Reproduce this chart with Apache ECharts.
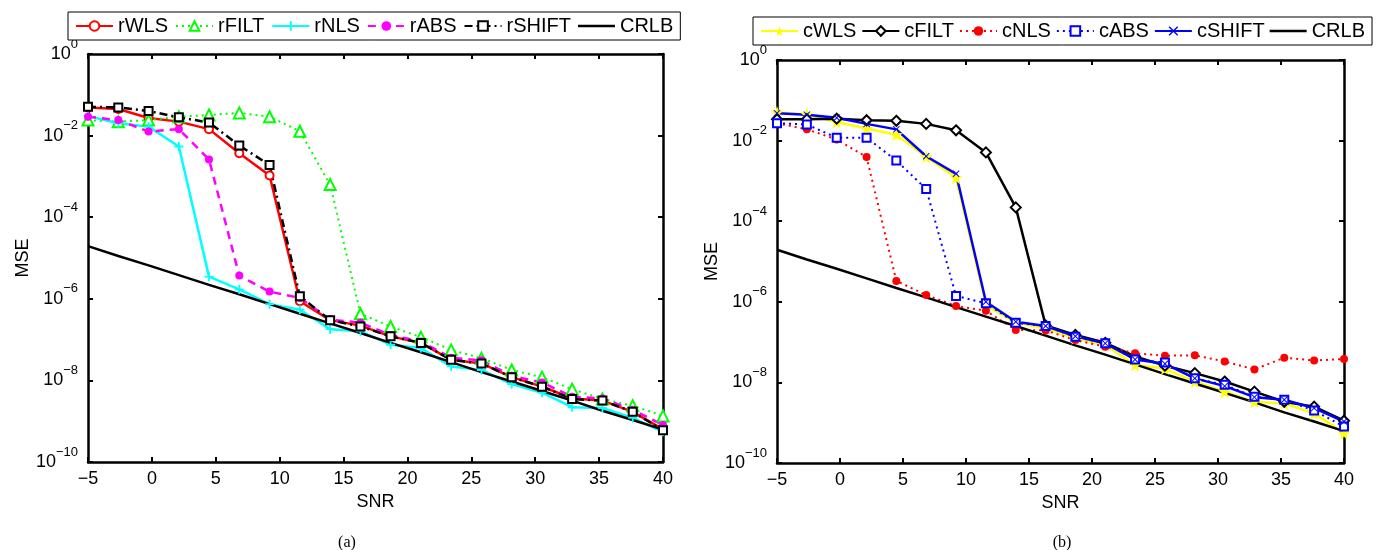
<!DOCTYPE html>
<html>
<head>
<meta charset="utf-8">
<script src="https://cdn.jsdelivr.net/npm/echarts@6/dist/echarts.min.js"></script>
<style>
html,body{margin:0;padding:0;background:#fff;}
#c{width:1380px;height:550px;}
</style>
</head>
<body>
<div id="c"></div>
<script>
// ---- data ----
const snr = [-5, -2.63, -0.26, 2.11, 4.47, 6.84, 9.21, 11.58, 13.95, 16.32, 18.68, 21.05, 23.42, 25.79, 28.16, 30.53, 32.89, 35.26, 37.63, 40];
const xTicks = [-5, 0, 5, 10, 15, 20, 25, 30, 35, 40];

const rWLS   = [0.049, 0.045, 0.027, 0.022, 0.0144, 0.0037, 0.00105, 8.7e-7, 3.0e-7, 2.2e-7, 1.2e-7, 8.3e-8, 3.2e-8, 2.6e-8, 1.2e-8, 7.1e-9, 3.6e-9, 3.2e-9, 1.7e-9, 6.3e-10];
const rFILT  = [0.024, 0.022, 0.024, 0.029, 0.032, 0.036, 0.029, 0.0128, 6.3e-4, 4.3e-7, 2.1e-7, 1.15e-7, 5.6e-8, 3.5e-8, 1.8e-8, 1.2e-8, 6.1e-9, 3.5e-9, 2.4e-9, 1.35e-9];
const rNLS   = [0.030, 0.020, 0.0166, 0.0054, 3.5e-6, 1.7e-6, 7.4e-7, 5.4e-7, 1.8e-7, 1.6e-7, 7.5e-8, 6.2e-8, 2.2e-8, 1.8e-8, 8.1e-9, 5.0e-9, 2.2e-9, 2.1e-9, 1.2e-9, 5.5e-10];
const rABS   = [0.029, 0.024, 0.0126, 0.0144, 0.0026, 3.7e-6, 1.5e-6, 1.05e-6, 3.1e-7, 2.6e-7, 1.3e-7, 9.0e-8, 3.6e-8, 3.1e-8, 1.3e-8, 8.9e-9, 4.0e-9, 3.6e-9, 1.9e-9, 8.1e-10];
const rSHIFT = [0.051, 0.049, 0.040, 0.028, 0.021, 0.0057, 0.0019, 1.15e-6, 3.0e-7, 2.1e-7, 1.2e-7, 8.3e-8, 3.2e-8, 2.6e-8, 1.2e-8, 7.0e-9, 3.5e-9, 3.2e-9, 1.7e-9, 6.0e-10];
const CRLB   = [1.95e-5, 1.12e-5, 6.6e-6, 3.8e-6, 2.2e-6, 1.29e-6, 7.4e-7, 4.3e-7, 2.5e-7, 1.45e-7, 8.3e-8, 4.9e-8, 2.8e-8, 1.6e-8, 9.4e-9, 5.5e-9, 3.2e-9, 1.8e-9, 1.07e-9, 6.2e-10];

const cWLS   = [0.050, 0.045, 0.029, 0.020, 0.014, 0.0040, 0.0012, 8.3e-7, 3.0e-7, 2.2e-7, 1.24e-7, 8.5e-8, 2.7e-8, 2.2e-8, 1.05e-8, 5.9e-9, 3.3e-9, 3.0e-9, 1.7e-9, 5.5e-10];
const cFILT  = [0.034, 0.034, 0.035, 0.032, 0.031, 0.026, 0.018, 0.0051, 2.2e-4, 2.6e-7, 1.5e-7, 9.6e-8, 4.4e-8, 2.6e-8, 1.7e-8, 1.05e-8, 5.9e-9, 3.3e-9, 2.5e-9, 1.12e-9];
const cNLS   = [0.027, 0.019, 0.0107, 0.0039, 3.3e-6, 1.47e-6, 7.9e-7, 6.0e-7, 2.0e-7, 1.95e-7, 1.12e-7, 7.7e-8, 5.3e-8, 4.6e-8, 4.7e-8, 3.3e-8, 2.1e-8, 4.1e-8, 3.5e-8, 3.8e-8];
const cABS   = [0.027, 0.025, 0.0118, 0.0118, 0.0032, 6.3e-4, 1.4e-6, 9.2e-7, 3.0e-7, 2.5e-7, 1.35e-7, 9.3e-8, 3.7e-8, 3.1e-8, 1.26e-8, 8.7e-9, 4.4e-9, 3.7e-9, 2.0e-9, 8.0e-10];
const cSHIFT = [0.048, 0.044, 0.037, 0.026, 0.019, 0.0041, 0.0015, 1.0e-6, 3.2e-7, 2.5e-7, 1.4e-7, 9.3e-8, 3.7e-8, 2.9e-8, 1.26e-8, 8.1e-9, 4.3e-9, 3.7e-9, 2.3e-9, 1.07e-9];

const legendA = ['rWLS', 'rFILT', 'rNLS', 'rABS', 'rSHIFT', 'CRLB'];
const legendB = ['cWLS', 'cFILT', 'cNLS', 'cABS', 'cSHIFT', 'CRLB'];
const panelLabels = ['(a)', '(b)'];

// ---- styling ----
const FONT = 'Liberation Sans, Arial, Helvetica, sans-serif';
const STAR = 'path://M10,0 L12.35,6.76 L19.51,6.91 L13.80,11.24 L15.88,18.09 L10,14 L4.12,18.09 L6.20,11.24 L0.49,6.91 L7.65,6.76 Z';
const PLUS = 'path://M4,0H6V4H10V6H6V10H4V6H0V4H4Z';
const XMARK = 'path://M1,0L5,4L9,0L10,1L6,5L10,9L9,10L5,6L1,10L0,9L4,5L0,1Z';
const LINEICON = 'path://M0,0H37V2.5H0Z';

function pairs(vals){ return snr.map((x,i)=>[x, vals[i]]); }

function mk(name, vals, gi, color, type, width, symbol, size, empty, bw){
  return {
    name: name, type: 'line', xAxisIndex: gi*2, yAxisIndex: gi*2,
    data: pairs(vals),
    symbol: symbol, symbolSize: size, showSymbol: symbol !== 'none',
    lineStyle: {color: color, width: width, type: type},
    itemStyle: empty ? {color: color, borderColor: color, borderWidth: bw || 2}
                     : {color: color, borderColor: color, borderWidth: bw || 0},
    emphasis: {disabled: true},
    z: 3
  };
}

function xAxes(gi){
  const base = {
    gridIndex: gi, type: 'value', min: -5, max: 40, interval: 5,
    axisLine: {onZero: false, lineStyle: {color: '#000', width: 2.5}},
    axisTick: {inside: true, length: 5, lineStyle: {color: '#000', width: 2}},
    splitLine: {show: false}
  };
  return [
    Object.assign({}, base, {
      position: 'bottom',
      axisLabel: {color: '#000', fontFamily: FONT, fontSize: 18, margin: 8,
        formatter: v => (v < 0 ? '\u2212' + Math.abs(v) : '' + v)},
      name: 'SNR', nameLocation: 'middle', nameGap: 29,
      nameTextStyle: {color: '#000', fontFamily: FONT, fontSize: 18}
    }),
    Object.assign({}, base, {position: 'top', axisLabel: {show: false}})
  ];
}

function yAxes(gi){
  const base = {
    gridIndex: gi, type: 'log', logBase: 10, min: 1e-10, max: 1, interval: 2,
    axisLine: {onZero: false, lineStyle: {color: '#000', width: 2.5}},
    axisTick: {inside: true, length: 5, lineStyle: {color: '#000', width: 2}},
    minorTick: {show: false},
    splitLine: {show: false}
  };
  return [
    Object.assign({}, base, {
      position: 'left',
      axisLabel: {
        margin: 10,
        formatter: v => {
          const e = Math.round(Math.log10(v));
          return '{b|10}{e|' + (e < 0 ? '\u2212' + Math.abs(e) : '' + e) + '}';
        },
        rich: {
          b: {fontFamily: FONT, fontSize: 18, color: '#000', verticalAlign: 'middle'},
          e: {fontFamily: FONT, fontSize: 13, color: '#000', verticalAlign: 'middle', padding: [0, 0, 20, 0]}
        }
      },
      name: 'MSE', nameLocation: 'middle', nameGap: 56,
      nameTextStyle: {color: '#000', fontFamily: FONT, fontSize: 18}
    }),
    Object.assign({}, base, {position: 'right', axisLabel: {show: false}})
  ];
}

function legend(names, left, top, width, gap){
  return {
    data: names.map(n => n === 'CRLB' ? {name: n, icon: LINEICON} : {name: n}),
    left: left, top: top, width: width, orient: 'horizontal',
    itemWidth: 37, itemHeight: 12, itemGap: gap,
    padding: [2, 7, 2, 7],
    borderColor: '#000', borderWidth: 1, backgroundColor: '#fff',
    textStyle: {color: '#000', fontFamily: FONT, fontSize: 20, lineHeight: 24},
    selectedMode: false, z: 10
  };
}

const option = {
  animation: false,
  backgroundColor: '#fff',
  title: [
    {text: panelLabels[0], left: 342, top: 530, textAlign: 'center',
     textStyle: {fontFamily: 'Liberation Serif, Times New Roman, serif', fontSize: 16, fontWeight: 'normal', color: '#000'}},
    {text: panelLabels[1], left: 1057, top: 530, textAlign: 'center',
     textStyle: {fontFamily: 'Liberation Serif, Times New Roman, serif', fontSize: 16, fontWeight: 'normal', color: '#000'}}
  ],
  grid: [
    {left: 88, top: 54, width: 575, height: 408, containLabel: false},
    {left: 777, top: 60, width: 567, height: 403, containLabel: false}
  ],
  legend: [legend(legendA, 68, 12, 605, 7), legend(legendB, 753, 17, 610, 5)],
  xAxis: xAxes(0).concat(xAxes(1)),
  yAxis: yAxes(0).concat(yAxes(1)),
  series: [
    mk('rWLS', rWLS, 0, '#ff0000', 'solid', 2.5, 'emptyCircle', 8, true, 2),
    mk('rFILT', rFILT, 0, '#00ff00', [2, 4], 2, 'emptyTriangle', 11, true, 2),
    mk('rNLS', rNLS, 0, '#00ffff', 'solid', 2.5, PLUS, 9, false, 0),
    mk('rABS', rABS, 0, '#ff00ff', [8, 6], 2.5, 'circle', 8, false, 0),
    mk('rSHIFT', rSHIFT, 0, '#000000', [8, 4, 2, 4], 2.5, 'emptyRect', 8, true, 2.5),
    mk('CRLB', CRLB, 0, '#000000', 'solid', 2.5, 'none', 0, false, 0),

    mk('cWLS', cWLS, 1, '#ffff00', 'solid', 2.5, STAR, 13, false, 0),
    mk('cFILT', cFILT, 1, '#000000', 'solid', 2.5, 'emptyDiamond', 10, true, 2),
    mk('cNLS', cNLS, 1, '#ff0000', [2, 4], 2, 'circle', 8, false, 0),
    mk('cABS', cABS, 1, '#0000ff', [2, 4], 2, 'emptyRect', 8, true, 2),
    mk('cSHIFT', cSHIFT, 1, '#0000ff', 'solid', 2.5, XMARK, 7, false, 0),
    mk('CRLB', CRLB, 1, '#000000', 'solid', 2.5, 'none', 0, false, 0)
  ]
};

const chart = echarts.init(document.getElementById('c'), null, {renderer: 'canvas'});
chart.setOption(option);
</script>
</body>
</html>
